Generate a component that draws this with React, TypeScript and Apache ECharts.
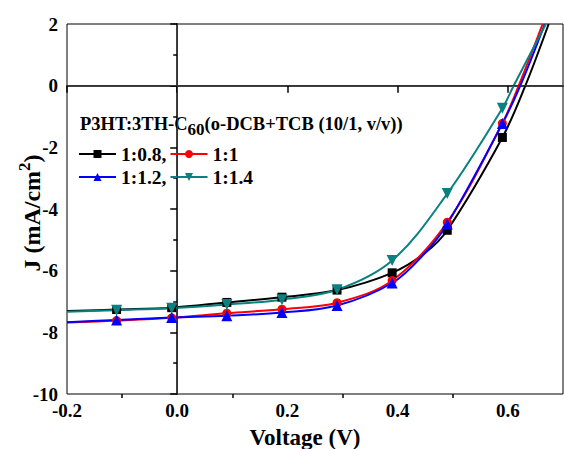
import React, { useEffect, useRef } from "react";
import * as echarts from "echarts";

// Marker voltages (V)
const MARKER_V = [-0.11, -0.01, 0.09, 0.19, 0.29, 0.39, 0.49, 0.59];

// 1:0.8 (black, square)
const V_08 = [-0.2, -0.11, -0.01, 0.09, 0.19, 0.29, 0.39, 0.45, 0.49, 0.59, 0.6317, 0.674];
const J_08 = [-7.31, -7.26, -7.2, -7.03, -6.86, -6.63, -6.07, -5.42, -4.69, -1.68, 0, 2];

// 1:1 (red, circle)
const V_10 = [-0.2, -0.11, -0.01, 0.09, 0.19, 0.29, 0.39, 0.49, 0.59, 0.6196, 0.663];
const J_10 = [-7.68, -7.62, -7.53, -7.38, -7.25, -7.04, -6.32, -4.43, -1.22, 0, 2];

// 1:1.2 (blue, triangle)
const V_12 = [-0.2, -0.11, -0.01, 0.09, 0.19, 0.29, 0.39, 0.45, 0.49, 0.59, 0.6226, 0.667];
const J_12 = [-7.67, -7.6, -7.52, -7.46, -7.36, -7.13, -6.4, -5.42, -4.49, -1.23, 0, 2];

// 1:1.4 (teal, inverted triangle)
const V_14 = [-0.2, -0.11, -0.01, 0.09, 0.19, 0.29, 0.39, 0.49, 0.59, 0.6105, 0.669];
const J_14 = [-7.33, -7.28, -7.22, -7.1, -6.94, -6.62, -5.67, -3.5, -0.73, 0, 2];

const SERIES_NAMES = ["1:0.8", "1:1", "1:1.2", "1:1.4"];
const X_MAJOR = [-0.2, 0.0, 0.2, 0.4, 0.6];
const X_MINOR = [-0.1, 0.1, 0.3, 0.5];

const FONT = "'Liberation Serif', 'Times New Roman', serif";

function buildData(vs: number[], js: number[], sym: string) {
  return vs.map((v, i) => ({
    value: [v, js[i]],
    symbol: MARKER_V.some((m) => Math.abs(m - v) < 1e-6) ? sym : "none",
  }));
}

export default function App() {
  const ref = useRef<HTMLDivElement>(null);
  useEffect(() => {
    if (!ref.current) return;
    const chart = echarts.init(ref.current, undefined, { renderer: "svg" });
    const lineSeries = (
      name: string,
      vs: number[],
      js: number[],
      color: string,
      sym: string,
      size: number,
      rotate = 0,
      extra: any = {}
    ) => ({
      name,
      type: "line",
      xAxisIndex: 0,
      yAxisIndex: 0,
      smooth: 0.35,
      symbol: sym,
      symbolSize: size,
      symbolRotate: rotate,
      showSymbol: true,
      data: buildData(vs, js, sym),
      lineStyle: { color, width: 2 },
      itemStyle: { color },
      clip: true,
      ...extra,
    });
    const legendText = { color: "#000", fontFamily: FONT, fontWeight: "bold", fontSize: 19.5 };
    const legendFmt = (n: string) => (n === "1:0.8" || n === "1:1.2" ? n + "," : n);
    chart.setOption({
      animation: false,
      backgroundColor: "#fff",
      grid: {
        left: 67,
        right: 1,
        top: 24,
        bottom: 55,
        show: true,
        borderColor: "#000",
        borderWidth: 1,
        outerBoundsMode: "none",
      },
      xAxis: [
        {
          type: "value",
          min: -0.2,
          max: 0.7,
          interval: 0.1,
          position: "bottom",
          axisLine: { show: true, lineStyle: { color: "#000", width: 1.5 } },
          axisTick: {
            show: true,
            customValues: X_MAJOR,
            length: 7,
            lineStyle: { color: "#000", width: 1.5 },
          },
          axisLabel: {
            show: true,
            customValues: X_MAJOR,
            formatter: (v: number) => v.toFixed(1),
            color: "#000",
            fontFamily: FONT,
            fontWeight: "bold",
            fontSize: 19,
            margin: 7,
          },
          splitLine: { show: false },
        },
        {
          type: "value",
          min: -0.2,
          max: 0.7,
          interval: 0.1,
          position: "bottom",
          axisLine: { show: false },
          axisTick: {
            show: true,
            customValues: X_MINOR,
            length: 4,
            lineStyle: { color: "#000", width: 1.5 },
          },
          axisLabel: { show: false },
          splitLine: { show: false },
        },
      ],
      yAxis: {
        type: "value",
        min: -10,
        max: 2,
        interval: 2,
        axisLine: { show: true, lineStyle: { color: "#000", width: 1.5 } },
        axisTick: { show: true, length: 7, lineStyle: { color: "#000", width: 1.5 } },
        minorTick: { show: true, splitNumber: 2, length: 4, lineStyle: { color: "#000", width: 1.5 } },
        axisLabel: {
          color: "#000",
          fontFamily: FONT,
          fontWeight: "bold",
          fontSize: 19,
          margin: 9,
        },
        splitLine: { show: false },
      },
      legend: [
        {
          data: [SERIES_NAMES[0], SERIES_NAMES[1]],
          left: 78,
          top: 144,
          orient: "horizontal",
          itemWidth: 37,
          itemHeight: 10,
          itemGap: 3,
          padding: 0,
          formatter: legendFmt,
          textStyle: legendText,
        },
        {
          data: [SERIES_NAMES[2], SERIES_NAMES[3]],
          left: 78,
          top: 167,
          orient: "horizontal",
          itemWidth: 37,
          itemHeight: 10,
          itemGap: 3,
          padding: 0,
          formatter: legendFmt,
          textStyle: legendText,
        },
      ],
      graphic: [
        {
          type: "text",
          x: 80,
          y: 122,
          style: {
            text: "{a|P3HT:3TH-C}{b|60}{a|(o-DCB+TCB (10/1, v/v))}",
            verticalAlign: "middle",
            rich: {
              a: { fontFamily: FONT, fontWeight: "bold", fontSize: 18.5, fill: "#000", lineHeight: 22, verticalAlign: "bottom" },
              b: { fontFamily: FONT, fontWeight: "bold", fontSize: 17, fill: "#000", lineHeight: 22, verticalAlign: "bottom", padding: [0, 0, -5, 0] },
            },
          },
        },
        {
          type: "text",
          x: 30,
          y: 213,
          rotation: Math.PI / 2,
          style: {
            text: "{a|J (mA/cm}{s|2}{a|)}",
            align: "center",
            verticalAlign: "middle",
            rich: {
              a: { fontFamily: FONT, fontWeight: "bold", fontSize: 24, fill: "#000", lineHeight: 28, verticalAlign: "bottom" },
              s: { fontFamily: FONT, fontWeight: "bold", fontSize: 17, fill: "#000", lineHeight: 28, verticalAlign: "bottom", padding: [0, 0, 11, 0] },
            },
          },
        },
        {
          type: "text",
          x: 305,
          y: 437,
          style: {
            text: "Voltage (V)",
            align: "center",
            verticalAlign: "middle",
            fontFamily: FONT,
            fontWeight: "bold",
            fontSize: 23,
            fill: "#000",
          },
        },
      ],
      series: [
        lineSeries(SERIES_NAMES[0], V_08, J_08, "#000000", "rect", 9, 0, {
          markLine: {
            silent: true,
            symbol: "none",
            label: { show: false },
            lineStyle: { color: "#333", width: 1, type: "solid" },
            data: [{ xAxis: 0 }, { yAxis: 0 }],
          },
        }),
        lineSeries(SERIES_NAMES[1], V_10, J_10, "#ff0000", "circle", 9),
        lineSeries(SERIES_NAMES[2], V_12, J_12, "#0000ff", "triangle", 11),
        lineSeries(SERIES_NAMES[3], V_14, J_14, "#0a8080", "triangle", 11, 180),
      ],
    });
    return () => chart.dispose();
  }, []);
  return (
    <div
      ref={ref}
      style={{ position: "fixed", left: 0, top: 0, width: 564, height: 449 }}
    />
  );
}
